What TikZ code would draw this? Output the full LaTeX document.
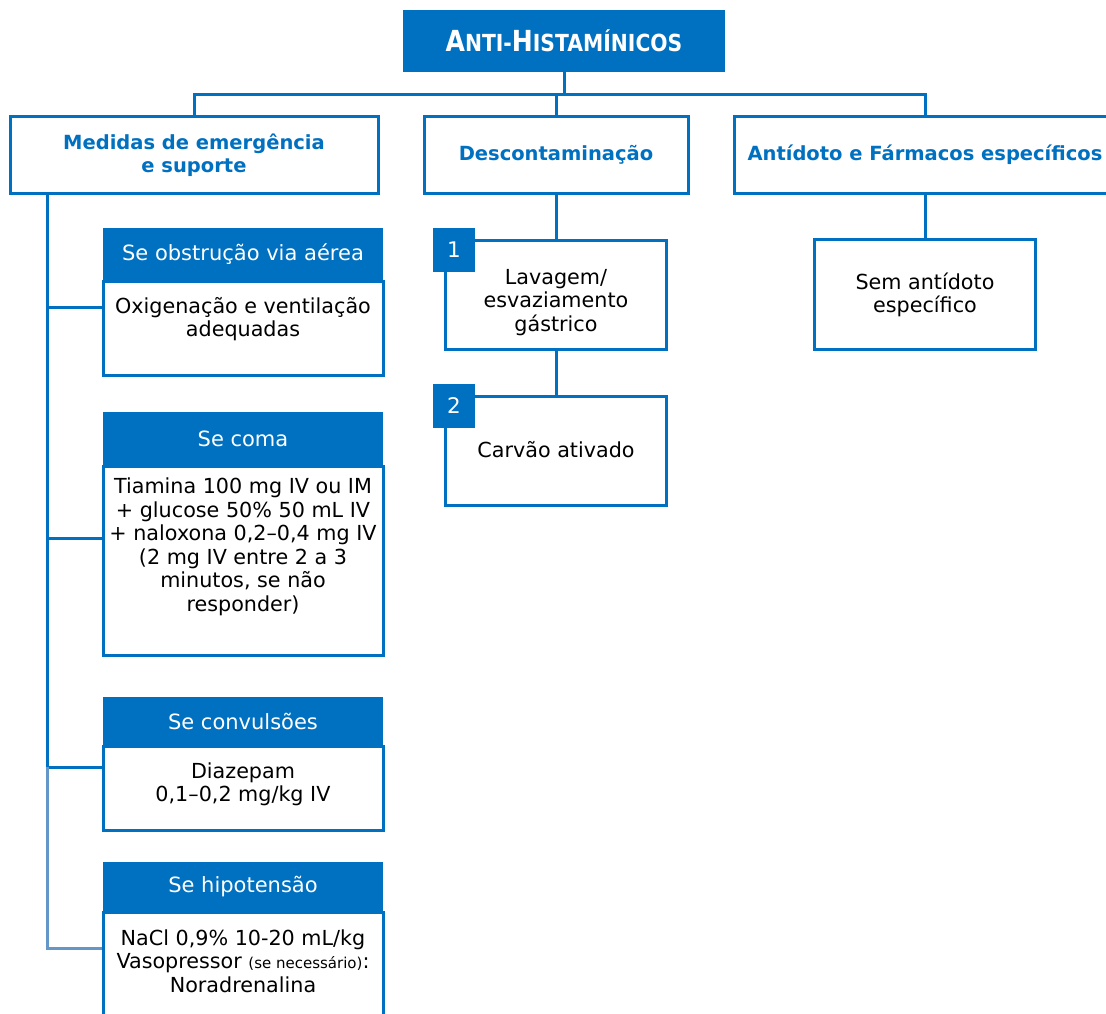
\documentclass[tikz,border=0pt]{standalone}
\usepackage{fontspec}
\usepackage{graphicx}
\setmainfont{DejaVu Sans}
\definecolor{mainblue}{RGB}{0,112,192}
\definecolor{paleblue}{RGB}{100,150,200}

\begin{document}
\begin{tikzpicture}[x=1pt,y=-1pt,
  every node/.style={inner sep=0pt, outer sep=0pt},
  boxline/.style={draw=mainblue, line width=3pt, fill=white},
  link/.style={draw=mainblue, line width=3pt},
  bodytext/.style={font=\fontsize{20.7}{23.5}\selectfont, align=center, text=black},
  headtext/.style={font=\bfseries\fontsize{19.5}{23}\selectfont, align=center, text=mainblue},
  band/.style={fill=mainblue, text=white, font=\fontsize{21}{23.5}\selectfont, align=center},
  numbox/.style={fill=mainblue, text=white, minimum width=42pt, minimum height=44pt, font=\fontsize{21.5}{22}\selectfont},
]
\useasboundingbox (0,0) rectangle (1106,1014);
\clip (0,0) rectangle (1106,1014);

% top title and first level
\node[band, minimum width=322pt, minimum height=62pt] (title) at (564,41)
  {\bfseries\scalebox{0.865}[1]{{\fontsize{29}{30}\selectfont A}{\fontsize{23.5}{30}\selectfont NTI-}{\fontsize{29}{30}\selectfont H}{\fontsize{23.5}{30}\selectfont ISTAMÍNICOS}}};
\node[boxline, minimum width=368pt, minimum height=76pt, headtext] (med) at (194,155) {Medidas de emergência\\e suporte};
\node[boxline, minimum width=264pt, minimum height=76pt, headtext] (desc) at (556,155) {Descontaminação};
\node[boxline, minimum width=382pt, minimum height=76pt, headtext] (anti) at (925,155) {Antídoto e Fármacos específicos};

\coordinate (busL) at (194,95);
\coordinate (busR) at (925,95);
\draw[link] (title.south) -- (title.south |- busL);
\draw[link] (med.north) -- (busL) -- (busR) -- (anti.north);
\draw[link] (desc.north) -- (desc.north |- busL);

% emergency measures column
\coordinate (sp) at (47,0);
\coordinate (j1) at (103,307);
\coordinate (j2) at (103,538);
\coordinate (j3) at (103,767);
\coordinate (j4) at (103,948);
\draw[link] (med.south -| sp) -- (sp |- j3);
\draw[link] (sp |- j1) -- (j1);
\draw[link] (sp |- j2) -- (j2);
\draw[link] (sp |- j3) -- (j3);
\draw[link, draw=paleblue, line join=miter] (sp |- j3) -- (sp |- j4) -- (j4);

\node[boxline, minimum width=280pt, minimum height=94pt] (b1) at (243,328) {};
\node[band, minimum width=280pt, minimum height=53pt] (h1) at (243,254.5) {Se obstrução via aérea};
\node[bodytext] (t1) at (243,319) {Oxigenação e ventilação\\adequadas};

\node[boxline, minimum width=280pt, minimum height=189pt] (b2) at (243,560.5) {};
\node[band, minimum width=280pt, minimum height=54pt] (h2) at (243,439) {Se coma};
\node[bodytext] (t2) at (243,547) {Tiamina 100 mg IV ou IM\\+ glucose 50\% 50 mL IV\\+ naloxona 0,2–0,4 mg IV\\(2 mg IV entre 2 a 3\\minutos, se não\\responder)};

\node[boxline, minimum width=280pt, minimum height=84pt] (b3) at (243,788) {};
\node[band, minimum width=280pt, minimum height=49pt] (h3) at (243,721.5) {Se convulsões};
\node[bodytext] (t3) at (243,784.5) {Diazepam\\0,1–0,2 mg/kg IV};

\node[boxline, minimum width=280pt, minimum height=118pt] (b4) at (243,971) {};
\node[band, minimum width=280pt, minimum height=50pt] (h4) at (243,887) {Se hipotensão};
\node[bodytext] (t4) at (243,961) {NaCl 0,9\% 10-20 mL/kg\\Vasopressor {\fontsize{15}{16}\selectfont (se necessário)}:\\Noradrenalina};

% decontamination column
\node[boxline, minimum width=221pt, minimum height=109pt] (lav) at (556,294.5) {};
\node[bodytext] (lavt) at (556,302.5) {Lavagem/\\esvaziamento\\gástrico};
\node[numbox] (n1) at (454,250) {1};
\node[boxline, minimum width=221pt, minimum height=109pt] (carv) at (556,450.5) {};
\node[bodytext] (carvt) at (556,450) {Carvão ativado};
\node[numbox] (n2) at (454,406) {2};
\draw[link] (desc.south) -- (lav.north);
\draw[link] (lav.south) -- (carv.north);

% antidote column
\node[boxline, minimum width=221pt, minimum height=110pt] (sem) at (925,294) {};
\node[bodytext] (semt) at (925,295) {Sem antídoto\\específico};
\draw[link] (anti.south) -- (sem.north);
\end{tikzpicture}
\end{document}
